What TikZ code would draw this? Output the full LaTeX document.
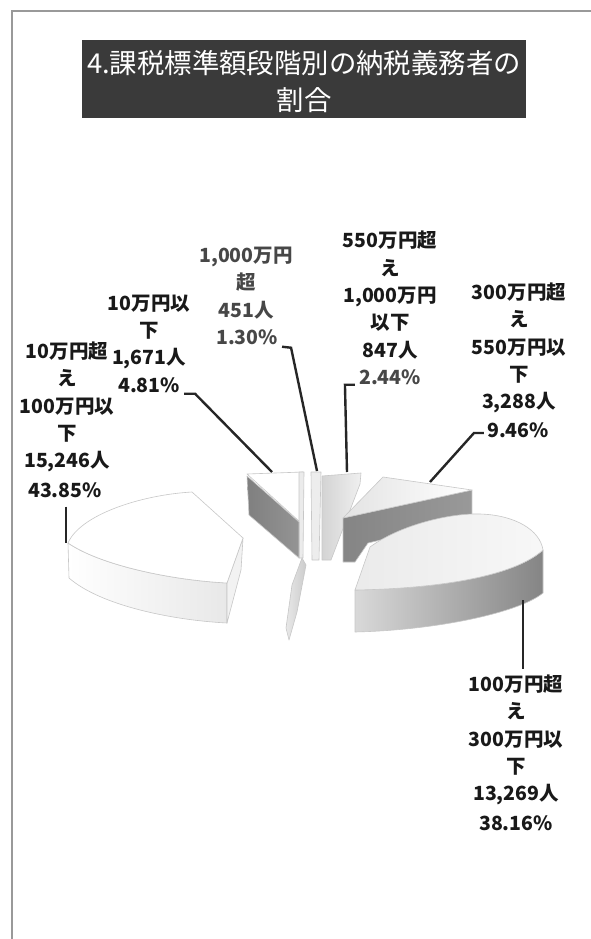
\documentclass[tikz,border=0pt]{standalone}
\usepackage{fontspec}
\newfontfamily\jp{Noto Sans CJK JP}
\usetikzlibrary{calc}
\definecolor{titlegray}{RGB}{58,58,58}
\begin{document}
\begin{tikzpicture}[x=1pt,y=-1pt,
  lab/.style={font=\jp\bfseries\fontsize{19.5}{27.3}\selectfont, align=center, inner sep=0pt, text=black!90},
  pct/.style={lab},
  leader/.style={draw=black!85, line width=2.4pt},
  facet/.style={draw=black!22, line width=0.6pt, line join=round},
]
\useasboundingbox (0,0) rectangle (591,939);
\fill[white] (0,0) rectangle (591,939);
% frame
\draw[black!40, line width=1.6pt] (12,939) -- (12,11) -- (591,11);
% title
\node[fill=titlegray, minimum width=444pt, minimum height=78pt, inner sep=0pt] (titlebox) at (304,79) {};
\node[font=\jp\fontsize{27.4}{37}\selectfont, text=white, align=center, inner sep=0pt] (titletext) at (304,81.5) {4.課税標準額段階別の納税義務者の\\割合};

% ---- slice A (10万円超100万円以下) ----
\path[facet, left color=white, right color=black!9] (68,543) .. controls (100,565) and (170,580) .. (227,583) -- (227,623) .. controls (170,620) and (100,605) .. (69,578) -- cycle;
\path[facet, fill=black!5] (243,538) -- (241,570) -- (227,623) -- (227,583) -- cycle;
\path[facet, fill=white] (68,543) .. controls (80,515) and (140,495) .. (192,492) -- (243,538) -- (227,583) .. controls (170,580) and (100,565) .. (68,543) -- cycle;

% ---- slice B (10万円以下) ----
\path[facet, fill=white] (247,474) -- (303,472) -- (300,522) -- cycle;
\path[facet, fill=black!8] (299,472) -- (304,472) -- (303,558) -- (299,558) -- cycle;
\path[facet, left color=black!50, right color=black!42] (247,476) -- (299,522) -- (299,558) -- (249,515) -- cycle;

% ---- slices C, D (1,000万円超 / 550万円超) ----
\path[facet, fill=black!7] (311,472) -- (321,472) -- (319,560) -- (312,560) -- cycle;
\path[facet, left color=black!17, right color=black!6] (322,476) -- (361,473) -- (360,484) -- (331,560) -- (322,560) -- cycle;

% ---- sliver at bottom centre ----
\path[facet, left color=black!9, right color=black!20] (302,558) -- (306,565) -- (297,612) -- (289,640) -- (286,628) -- (292,585) -- cycle;

% ---- slice E (300万円超550万円以下) ----
\path[facet, left color=black!48, right color=black!40] (343,518) -- (472,490) -- (472,518) -- (368,543) -- (355,562) -- (343,562) -- cycle;
\path[facet, left color=black!11, right color=white] (343,518) -- (383,477) -- (472,490) -- cycle;

% ---- slice F (100万円超300万円以下) ----
\path[facet, left color=black!15, middle color=black!27, right color=black!48] (355,590) .. controls (420,589) and (510,580) .. (543,550) -- (543,593) .. controls (520,612) and (440,630) .. (355,632) -- cycle;
\path[facet, left color=black!8, right color=black!3] (355,590) -- (370,547) .. controls (400,525) and (450,513) .. (480,514) .. controls (515,515) and (540,530) .. (543,550) .. controls (510,580) and (420,589) .. (355,590) -- cycle;

% ---- leader targets ----
\coordinate (t1) at (317,471);
\coordinate (t2) at (272,472);
\coordinate (t3) at (66,543);
\coordinate (t4) at (347,472);
\coordinate (t5) at (430,482);
\coordinate (t6) at (523,600);

% ---- labels ----
\node[lab, text=black!72] (lab1) at (246,283) {1,000万円\\超\\451人};
\node[pct, text=black!72] (p1) at (247,337) {1.30\%};

\node[lab] (lab2) at (149,332) {10万円以\\下\\1,671人};
\node[pct] (p2) at (149,385) {4.81\%};

\node[lab] (lab3) at (67,407) {10万円超\\え\\100万円以\\下\\15,246人};
\node[pct] (p3) at (65,490) {43.85\%};

\node[lab] (lab4) at (390,295) {550万円超\\え\\1,000万円\\以下\\847人};
\node[pct, text=black!72] (p4) at (390,377) {2.44\%};

\node[lab] (lab5) at (519,348) {300万円超\\え\\550万円以\\下\\3,288人};
\node[pct] (p5) at (518,430) {9.46\%};

\node[lab] (lab6) at (516,740) {100万円超\\え\\300万円以\\下\\13,269人};
\node[pct] (p6) at (516,823) {38.16\%};

% ---- leaders ----
\draw[leader] ($(p1.south east)+(4,2)$) -- ++(9,1) -- (t1);
\draw[leader] ($(p2.south east)+(4,1)$) -- ++(11,0) -- (t2);
\draw[leader] ($(p3.south)+(1,9)$) -- (t3);
\draw[leader] ($(p4.south west)+(-4,0)$) -- ++(-10,0) -- (t4);
\draw[leader] ($(p5.west)+(-3,3)$) -- ++(-10,0) -- (t5);
\draw[leader] (t6) -- ($(lab6.north -| t6)+(0,-6)$);
\end{tikzpicture}
\end{document}
